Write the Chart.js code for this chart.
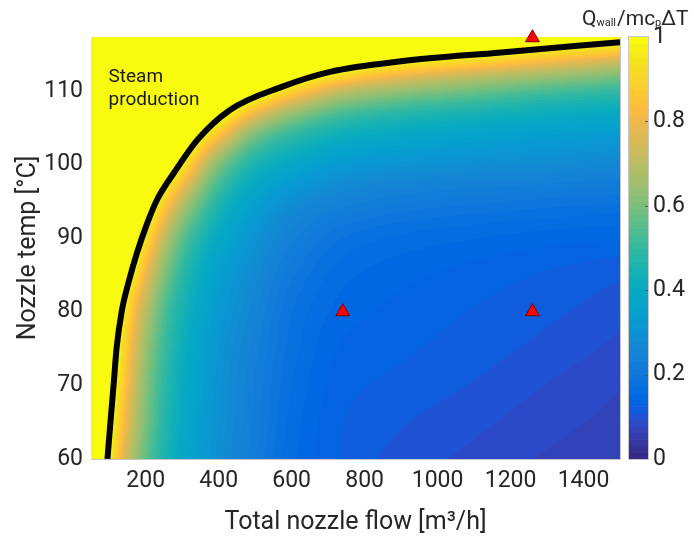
<!DOCTYPE html>
<html><head><meta charset="utf-8">
<script src="https://cdn.jsdelivr.net/npm/chart.js@4.4.1/dist/chart.umd.min.js"></script>
<style>html,body{margin:0;padding:0;background:#fff;}canvas{display:block;}</style>
</head><body>
<canvas id="c" width="694" height="540"></canvas>
<script>
// ---- data (values above 1 lie inside the clipped steam region) ----
const flowGrid = [50, 75, 100, 125, 150, 175, 200, 250, 300, 400, 500, 600, 750, 900, 1100, 1300, 1500];
const tempGrid = [60, 65, 70, 75, 80, 85, 90, 95, 100, 104, 107, 110, 112, 114, 115.5, 117.3];
const ratioT60   = [1.23, 1.10, 0.975, 0.85, 0.73, 0.64, 0.565, 0.46, 0.385, 0.29, 0.22, 0.16, 0.122, 0.103, 0.089, 0.076, 0.067];
const ratioT65   = [1.29, 1.16, 1.034, 0.905, 0.78, 0.68, 0.60, 0.48, 0.40, 0.297, 0.228, 0.166, 0.124, 0.111, 0.098, 0.084, 0.073];
const ratioT70   = [1.33, 1.21, 1.08, 0.95, 0.82, 0.71, 0.62, 0.495, 0.41, 0.303, 0.232, 0.172, 0.13, 0.12, 0.108, 0.093, 0.079];
const ratioT75   = [1.37, 1.24, 1.12, 0.99, 0.86, 0.745, 0.65, 0.515, 0.425, 0.31, 0.24, 0.18, 0.137, 0.128, 0.117, 0.104, 0.089];
const ratioT80   = [1.41, 1.29, 1.17, 1.04, 0.92, 0.795, 0.70, 0.545, 0.45, 0.33, 0.255, 0.188, 0.148, 0.135, 0.124, 0.113, 0.10];
const ratioT85   = [1.53, 1.41, 1.29, 1.16, 1.04, 0.92, 0.795, 0.615, 0.49, 0.35, 0.275, 0.207, 0.16, 0.146, 0.134, 0.123, 0.112];
const ratioT90   = [1.68, 1.56, 1.44, 1.31, 1.19, 1.07, 0.95, 0.72, 0.565, 0.395, 0.305, 0.24, 0.185, 0.168, 0.157, 0.148, 0.142];
const ratioT95   = [1.84, 1.72, 1.60, 1.49, 1.37, 1.25, 1.14, 0.905, 0.715, 0.475, 0.355, 0.29, 0.245, 0.222, 0.208, 0.198, 0.19];
const ratioT100  = [2.0, 1.9, 1.8, 1.7, 1.6, 1.5, 1.39, 1.18, 0.97, 0.615, 0.455, 0.385, 0.325, 0.305, 0.29, 0.28, 0.265];
const ratioT104  = [2.1, 2.0, 1.9, 1.8, 1.75, 1.65, 1.53, 1.36, 1.19, 0.85, 0.60, 0.50, 0.42, 0.39, 0.365, 0.345, 0.33];
const ratioT107  = [2.2, 2.1, 2.0, 1.95, 1.9, 1.8, 1.7, 1.6, 1.42, 1.08, 0.81, 0.65, 0.53, 0.485, 0.45, 0.42, 0.40];
const ratioT110  = [2.4, 2.3, 2.2, 2.1, 2.0, 1.95, 1.9, 1.8, 1.7, 1.31, 1.10, 0.905, 0.715, 0.64, 0.585, 0.535, 0.50];
const ratioT112  = [2.6, 2.5, 2.4, 2.3, 2.2, 2.1, 2.0, 1.9, 1.75, 1.38, 1.28, 1.10, 0.905, 0.795, 0.715, 0.655, 0.60];
const ratioT114  = [2.8, 2.7, 2.6, 2.5, 2.4, 2.3, 2.2, 2.0, 1.8, 1.6, 1.45, 1.30, 1.11, 1.00, 0.91, 0.82, 0.74];
const ratioT1155 = [3.0, 2.9, 2.8, 2.7, 2.6, 2.5, 2.4, 2.2, 2.0, 1.8, 1.6, 1.45, 1.27, 1.15, 1.06, 0.97, 0.885];
const ratioT1173 = [3.2, 3.1, 3.0, 2.9, 2.8, 2.7, 2.6, 2.4, 2.2, 2.0, 1.8, 1.65, 1.45, 1.34, 1.25, 1.16, 1.07];

const boundaryFlow = [95, 105, 113, 120, 134, 153, 176, 204, 231, 278, 341, 431, 571, 708, 900, 1174, 1500];
const boundaryTemp = [60, 66, 70.7, 75, 80, 84, 88, 92, 95.2, 98.9, 103.3, 107.4, 110.5, 112.6, 114, 115.2, 116.6];

const markerFlow = [740, 1260, 1260];
const markerTemp = [80, 80, 117.2];

const flowTicks = [200, 400, 600, 800, 1000, 1200, 1400];
const tempTicks = [60, 70, 80, 90, 100, 110];
const ratioTicks = [0, 0.2, 0.4, 0.6, 0.8, 1];

const ratioRows = [ratioT60, ratioT65, ratioT70, ratioT75, ratioT80, ratioT85, ratioT90, ratioT95,
  ratioT100, ratioT104, ratioT107, ratioT110, ratioT112, ratioT114, ratioT1155, ratioT1173];

// ---- colormap (parula, 64 levels) ----
const PARULA = [
[0.2081,0.1663,0.5292],[0.2116,0.1898,0.5777],[0.2123,0.2138,0.6270],[0.2081,0.2386,0.6771],
[0.1959,0.2645,0.7279],[0.1707,0.2919,0.7792],[0.1253,0.3242,0.8303],[0.0591,0.3598,0.8683],
[0.0117,0.3875,0.8820],[0.0060,0.4086,0.8828],[0.0165,0.4266,0.8786],[0.0329,0.4430,0.8720],
[0.0498,0.4586,0.8641],[0.0629,0.4737,0.8554],[0.0723,0.4887,0.8467],[0.0779,0.5040,0.8384],
[0.0793,0.5200,0.8312],[0.0749,0.5375,0.8263],[0.0641,0.5570,0.8240],[0.0488,0.5772,0.8228],
[0.0343,0.5966,0.8199],[0.0265,0.6137,0.8135],[0.0239,0.6287,0.8038],[0.0231,0.6418,0.7913],
[0.0228,0.6535,0.7768],[0.0267,0.6642,0.7607],[0.0384,0.6743,0.7436],[0.0590,0.6838,0.7254],
[0.0843,0.6928,0.7062],[0.1133,0.7015,0.6859],[0.1453,0.7098,0.6646],[0.1801,0.7177,0.6424],
[0.2178,0.7250,0.6193],[0.2586,0.7317,0.5954],[0.3022,0.7376,0.5712],[0.3482,0.7424,0.5473],
[0.3953,0.7459,0.5244],[0.4420,0.7481,0.5033],[0.4871,0.7491,0.4840],[0.5300,0.7491,0.4661],
[0.5709,0.7485,0.4494],[0.6099,0.7473,0.4337],[0.6473,0.7456,0.4188],[0.6834,0.7435,0.4044],
[0.7184,0.7411,0.3905],[0.7525,0.7384,0.3768],[0.7858,0.7356,0.3633],[0.8185,0.7327,0.3498],
[0.8507,0.7299,0.3360],[0.8824,0.7274,0.3217],[0.9139,0.7258,0.3063],[0.9450,0.7261,0.2886],
[0.9739,0.7314,0.2666],[0.9938,0.7455,0.2403],[0.9990,0.7653,0.2164],[0.9955,0.7861,0.1967],
[0.9880,0.8066,0.1794],[0.9789,0.8271,0.1633],[0.9697,0.8481,0.1475],[0.9626,0.8705,0.1309],
[0.9589,0.8949,0.1132],[0.9598,0.9218,0.0948],[0.9661,0.9514,0.0755],[0.9763,0.9831,0.0538]
].map(c => c.map(v => Math.round(v * 255)));

function colorIndex(v) { return Math.max(0, Math.min(63, Math.floor(v * 64))); }

function segIndex(arr, v) {
  let i = 0;
  while (i < arr.length - 2 && v > arr[i + 1]) i++;
  return i;
}
// shape-preserving (pchip) tangents, as used for smooth shading
function pchipSlopes(xs, ys) {
  const n = xs.length, h = [], d = [], m = new Array(n);
  for (let k = 0; k < n - 1; k++) { h.push(xs[k + 1] - xs[k]); d.push((ys[k + 1] - ys[k]) / h[k]); }
  m[0] = d[0]; m[n - 1] = d[n - 2];
  for (let k = 1; k < n - 1; k++) {
    if (d[k - 1] * d[k] <= 0) m[k] = 0;
    else {
      const w1 = 2 * h[k] + h[k - 1], w2 = h[k] + 2 * h[k - 1];
      m[k] = (w1 + w2) / (w1 / d[k - 1] + w2 / d[k]);
    }
  }
  return m;
}
function hermite(y0, y1, m0, m1, h, t) {
  const t2 = t * t, t3 = t2 * t;
  return (2 * t3 - 3 * t2 + 1) * y0 + (t3 - 2 * t2 + t) * h * m0 + (-2 * t3 + 3 * t2) * y1 + (t3 - t2) * h * m1;
}
function boundaryTempAt(F) {
  if (F < boundaryFlow[0]) return -Infinity;
  const n = boundaryFlow.length;
  if (F >= boundaryFlow[n - 1]) return boundaryTemp[n - 1];
  const k = segIndex(boundaryFlow, F);
  const t = (F - boundaryFlow[k]) / (boundaryFlow[k + 1] - boundaryFlow[k]);
  return boundaryTemp[k] + t * (boundaryTemp[k + 1] - boundaryTemp[k]);
}

const heatmapPlugin = {
  id: 'heatmap',
  beforeDatasetsDraw(chart) {
    const { ctx, chartArea } = chart;
    const xs = chart.scales.x, ys = chart.scales.y, cb = chart.scales.cb;
    const left = Math.round(chartArea.left), top = Math.round(chartArea.top);
    const w = Math.round(chartArea.right) - left, h = Math.round(chartArea.bottom) - top;
    const img = ctx.createImageData(w, h);
    const nR = tempGrid.length;
    const rowSlopes = ratioRows.map(r => pchipSlopes(flowGrid, r));
    // per-row values at each pixel column
    const rowVals = ratioRows.map(() => new Float64Array(w));
    const colB = new Float64Array(w);
    for (let i = 0; i < w; i++) {
      const F = Math.max(flowGrid[0], Math.min(flowGrid[flowGrid.length - 1], xs.getValueForPixel(left + i + 0.5)));
      const k = segIndex(flowGrid, F);
      const hh = flowGrid[k + 1] - flowGrid[k];
      const t = Math.max(0, Math.min(1, (F - flowGrid[k]) / hh));
      for (let r = 0; r < nR; r++) {
        rowVals[r][i] = hermite(ratioRows[r][k], ratioRows[r][k + 1], rowSlopes[r][k], rowSlopes[r][k + 1], hh, t);
      }
      colB[i] = boundaryTempAt(xs.getValueForPixel(left + i + 0.5));
    }
    const pixT = [], pixR = [], pixt = [];
    for (let j = 0; j < h; j++) {
      const T = Math.max(tempGrid[0], Math.min(tempGrid[nR - 1], ys.getValueForPixel(top + j + 0.5)));
      const r = segIndex(tempGrid, T);
      pixT.push(ys.getValueForPixel(top + j + 0.5)); pixR.push(r);
      pixt.push(Math.max(0, Math.min(1, (T - tempGrid[r]) / (tempGrid[r + 1] - tempGrid[r]))));
    }
    const col = new Array(nR);
    for (let i = 0; i < w; i++) {
      for (let r = 0; r < nR; r++) col[r] = rowVals[r][i];
      const ms = pchipSlopes(tempGrid, col);
      for (let j = 0; j < h; j++) {
        let v;
        if (pixT[j] >= colB[i]) v = 1;
        else {
          const r = pixR[j];
          v = hermite(col[r], col[r + 1], ms[r], ms[r + 1], tempGrid[r + 1] - tempGrid[r], pixt[j]);
          v = Math.min(0.999, v);
        }
        const c = PARULA[colorIndex(v)];
        const p = (j * w + i) * 4;
        img.data[p] = c[0]; img.data[p + 1] = c[1]; img.data[p + 2] = c[2]; img.data[p + 3] = 255;
      }
    }
    ctx.putImageData(img, left, top);
    ctx.save();
    ctx.strokeStyle = '#c4c4c4';
    ctx.lineWidth = 1;
    ctx.beginPath();
    ctx.moveTo(left, top + h + 0.5); ctx.lineTo(left + w + 0.5, top + h + 0.5);
    ctx.moveTo(left + w + 0.5, top); ctx.lineTo(left + w + 0.5, top + h + 0.5);
    ctx.stroke();
    // colorbar
    const cbx = Math.round(chartArea.right) + 9, cbw = 19;
    for (let k = 0; k < 64; k++) {
      const y0 = cb.getPixelForValue(k / 64), y1 = cb.getPixelForValue((k + 1) / 64);
      const c = PARULA[k];
      ctx.fillStyle = `rgb(${c[0]},${c[1]},${c[2]})`;
      ctx.fillRect(cbx, y1, cbw, y0 - y1 + 0.6);
    }
    ctx.strokeStyle = '#c8c8c8';
    ctx.strokeRect(cbx - 0.5, cb.getPixelForValue(1) - 0.5, cbw + 1, cb.getPixelForValue(0) - cb.getPixelForValue(1) + 1);
    ctx.strokeStyle = '#555';
    ctx.beginPath();
    ratioTicks.forEach(v => {
      if (v <= 0 || v >= 1) return;
      const yy = Math.round(cb.getPixelForValue(v)) + 0.5;
      ctx.moveTo(cbx + cbw - 3, yy); ctx.lineTo(cbx + cbw, yy);
    });
    ctx.stroke();
    ctx.restore();
  },
  afterDraw(chart) {
    const { ctx } = chart;
    const xs = chart.scales.x, ys = chart.scales.y;
    ctx.save();
    ctx.fillStyle = '#1a1a1a';
    ctx.font = '19px Roboto';
    ctx.textAlign = 'left';
    ctx.textBaseline = 'alphabetic';
    ctx.fillText('Steam', xs.getPixelForValue(98), ys.getPixelForValue(111.15));
    ctx.fillText('production', xs.getPixelForValue(98), ys.getPixelForValue(108.05));
    // colorbar title  Q_wall / m c_p ΔT
    ctx.fillStyle = '#262626';
    let x = 582; const base = 25;
    const big = '21px Roboto', small = '11px Roboto';
    ctx.font = big; ctx.fillText('Q', x, base); x += ctx.measureText('Q').width;
    ctx.font = small; ctx.fillText('wall', x, base + 1); x += ctx.measureText('wall').width + 1;
    ctx.font = big; ctx.fillText('/mc', x, base); x += ctx.measureText('/mc').width;
    ctx.font = small; ctx.fillText('p', x, base + 1); x += ctx.measureText('p').width;
    ctx.font = big; ctx.fillText('\u0394T', x, base);
    ctx.restore();
  }
};

const tickFont = { family: 'Roboto', size: 23 };
const titleFont = { family: 'Roboto', size: 25 };

new Chart(document.getElementById('c'), {
  type: 'scatter',
  data: {
    datasets: [
      {
        label: 'cases',
        data: markerFlow.map((f, i) => ({ x: f, y: markerTemp[i] })),
        pointStyle: 'triangle',
        pointRadius: 8,
        pointHoverRadius: 8,
        backgroundColor: '#ff0000',
        borderColor: '#7a0000',
        borderWidth: 1,
        showLine: false,
        clip: false
      },
      {
        label: 'boundary',
        data: boundaryFlow.map((f, i) => ({ x: f, y: boundaryTemp[i] })),
        showLine: true,
        borderColor: '#000000',
        borderWidth: 6,
        pointRadius: 0,
        cubicInterpolationMode: 'monotone',
        fill: false
      }
    ]
  },
  options: {
    responsive: false,
    animation: false,
    devicePixelRatio: 1,
    layout: { padding: { top: 37, left: 0, right: 0, bottom: 0 } },
    plugins: { legend: { display: false }, tooltip: { enabled: false } },
    events: [],
    scales: {
      x: {
        type: 'linear', position: 'bottom', min: 50, max: 1500,
        afterBuildTicks: s => { s.ticks = flowTicks.map(v => ({ value: v })); },
        ticks: { font: tickFont, color: '#262626', padding: 8, maxRotation: 0, autoSkip: false, callback: v => String(v) },
        grid: { display: false, drawTicks: false }, border: { display: false },
        title: { display: true, text: 'Total nozzle flow [m\u00B3/h]', font: titleFont, color: '#262626', padding: { top: 0, bottom: 2 } },
        afterFit: s => { s.height = 81; s.paddingLeft = 0; s.paddingRight = 0; }
      },
      y: {
        type: 'linear', position: 'left', min: 60, max: 117.3,
        afterBuildTicks: s => { s.ticks = tempTicks.map(v => ({ value: v })); },
        ticks: { font: tickFont, color: '#262626', padding: 8, autoSkip: false, callback: v => String(v) },
        grid: { display: false, drawTicks: false }, border: { display: false },
        title: { display: true, text: 'Nozzle temp [\u00B0C]', font: titleFont, color: '#262626', padding: { top: 14, bottom: 0 } },
        afterFit: s => { s.width = 91; s.paddingTop = 0; s.paddingBottom = 0; }
      },
      cb: {
        type: 'linear', position: 'right', axis: 'y', min: 0, max: 1,
        afterBuildTicks: s => { s.ticks = ratioTicks.map(v => ({ value: v })); },
        ticks: { font: tickFont, color: '#262626', padding: 33, autoSkip: false, callback: v => String(v) },
        grid: { display: false, drawTicks: false }, border: { display: false },
        afterFit: s => { s.width = 74; s.paddingTop = 0; s.paddingBottom = 0; }
      }
    }
  },
  plugins: [heatmapPlugin]
});
</script>
</body></html>
